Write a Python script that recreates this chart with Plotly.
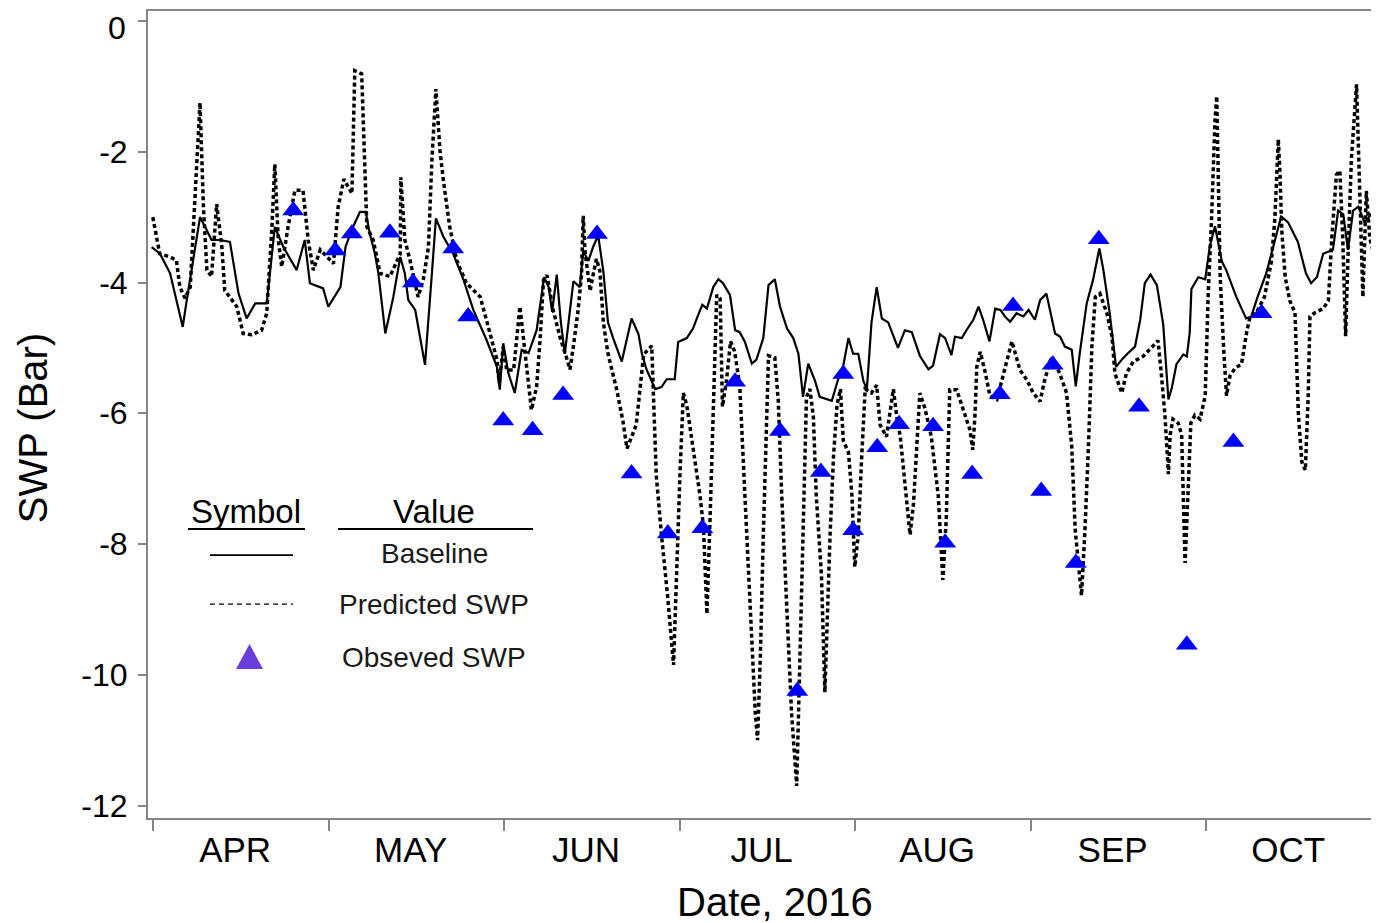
import plotly.graph_objects as go

# ---------------- data (x = days since 1 Apr 2016 on the chart's month scale) -------------
month_labels = ["APR", "MAY", "JUN", "JUL", "AUG", "SEP", "OCT"]
month_len = 30.5          # chart uses equal-width months
label_offset = 14.2       # month labels sit near mid-month

baseline_day = [-0.3, 1.15, 2.9, 5.1, 5.8, 7.2, 8.1, 9.0, 10.1, 11.6, 13.3, 14.8, 16.2, 17.7, 19.7,
                21.1, 22.6, 24.9, 26.3, 27.2, 29.5, 30.4, 31.9, 32.5, 33.4, 34.7, 35.9, 36.9, 37.6,
                38.5, 39.1, 40.3, 41.7, 42.9, 43.7, 44.3, 45.5, 47.2, 48.4, 49.1, 50.4, 52.1, 53.9,
                55.6, 57.9, 59.7, 60.2, 60.8, 61.7, 62.8, 64.0, 65.2, 66.6, 67.9, 68.7, 69.3, 70.1,
                70.8, 71.5, 73.0, 74.1, 74.7, 75.6, 76.4, 77.3, 78.2, 79.0, 79.9, 81.4, 83.1, 84.3,
                84.9, 85.7, 87.2, 88.3, 89.2, 90.6, 91.2, 92.7, 93.8, 94.7, 95.4, 96.2, 97.3, 98.2,
                99.0, 100.2, 101.1, 101.9, 102.8, 104.0, 104.8, 106.0, 106.9, 108.0, 108.9, 110.1,
                111.2, 112.1, 112.9, 113.8, 115.0, 115.8, 117.0, 117.9, 119.0, 119.9, 120.8, 121.6,
                122.5, 123.4, 124.0, 124.8, 125.7, 126.6, 127.7, 129.4, 130.6, 131.8, 133.2, 134.7,
                135.5, 136.7, 137.6, 138.7, 139.3, 140.5, 141.3, 142.5, 143.4, 144.2, 145.3, 146.3,
                147.2, 148.0, 148.9, 150.0, 151.2, 152.1, 153.2, 154.1, 155.2, 156.7, 157.6, 158.4,
                159.6, 160.3, 161.0, 162.2, 163.3, 164.4, 165.1, 166.2, 167.3, 168.3, 169.4, 170.6,
                171.5, 172.3, 173.3, 174.4, 175.5, 176.4, 177.0, 177.8, 179.0, 179.6, 180.1, 180.4,
                181.6, 182.8, 183.6, 184.5, 185.7, 186.4, 188.2, 189.9, 190.8, 191.9, 193.4, 194.8,
                196.0, 197.2, 198.9, 200.3, 201.2, 202.2, 203.3, 205.0, 205.9, 206.8, 207.6, 208.5,
                209.4, 210.5, 211.6, 213.1]
baseline_swp = [-3.46, -3.56, -3.86, -4.68, -4.27, -3.46, -3.0, -3.15, -3.35, -3.35, -3.38, -4.17,
                -4.55, -4.32, -4.32, -3.15, -3.46, -3.81, -3.35, -4.01, -4.09, -4.37, -4.17, -4.07,
                -3.45, -3.15, -2.92, -2.92, -3.25, -3.56, -3.86, -4.78, -4.22, -3.61, -3.86, -4.27,
                -4.42, -5.26, -3.86, -3.02, -3.30, -3.56, -3.96, -4.42, -4.88, -5.29, -5.64, -4.93,
                -5.39, -5.69, -5.03, -5.08, -4.73, -3.92, -4.07, -4.45, -3.88, -4.6, -5.09, -3.98,
                -4.07, -3.52, -3.67, -3.46, -3.28, -3.83, -4.61, -4.85, -5.21, -4.55, -4.79, -5.09,
                -5.33, -5.63, -5.60, -5.48, -5.48, -4.91, -4.85, -4.70, -4.49, -4.34, -4.40, -4.07,
                -3.95, -4.01, -4.19, -4.73, -4.76, -4.91, -5.24, -5.18, -4.85, -4.04, -3.95, -4.37,
                -4.70, -4.85, -5.09, -5.75, -5.24, -5.51, -5.75, -5.78, -5.81, -5.48, -5.27, -4.85,
                -5.09, -5.09, -5.51, -5.63, -4.61, -4.07, -4.55, -4.61, -5.00, -4.73, -4.76, -5.12,
                -5.33, -5.27, -4.79, -4.85, -5.11, -4.83, -4.85, -4.73, -4.57, -4.37, -4.57, -4.90,
                -4.40, -4.42, -4.52, -4.60, -4.47, -4.52, -4.42, -4.57, -4.27, -4.17, -4.78, -4.83,
                -4.98, -5.03, -5.59, -5.08, -4.32, -3.96, -3.48, -3.81, -4.47, -5.29, -5.18, -5.08,
                -4.98, -4.57, -4.01, -3.88, -4.04, -4.64, -5.79, -5.61, -5.25, -5.10, -5.13, -4.77,
                -4.10, -3.92, -3.95, -3.44, -3.14, -3.68, -3.80, -4.22, -4.55, -4.52, -4.22, -3.86,
                -3.38, -2.99, -3.08, -3.38, -3.86, -4.01, -3.92, -3.56, -3.50, -2.90, -2.96, -3.50,
                -2.90, -2.84, -3.08, -2.96, -3.14]

predicted_day = [-0.1, 1.1, 2.9, 4.0, 4.6, 5.5, 6.4, 7.2, 8.1, 8.7, 9.3, 10.1, 11.0, 11.9, 12.4, 14.5,
                 15.6, 17.1, 18.8, 19.7, 20.6, 21.1, 21.7, 22.3, 23.4, 24.6, 26.0, 26.9, 27.8, 29.0,
                 31.3, 32.1, 33.1, 34.5, 35.0, 36.2, 36.8, 37.1, 38.2, 39.4, 41.1, 42.9, 43.0, 43.7,
                 44.6, 46.0, 46.9, 47.8, 48.4, 49.1, 49.8, 50.4, 51.5, 52.7, 54.4, 56.8, 58.2, 59.7,
                 60.1, 60.8, 61.4, 62.6, 63.7, 64.3, 64.9, 65.7, 66.6, 67.2, 67.8, 68.4, 69.5, 70.7,
                 71.8, 72.4, 73.0, 73.8, 74.4, 74.7, 75.0, 75.9, 76.4, 77.0, 77.6, 78.2, 79.0, 80.5,
                 81.6, 82.3, 83.1, 83.9, 84.5, 85.2, 86.6, 86.9, 87.4, 88.3, 89.4, 90.4, 90.9, 91.5,
                 92.1, 92.7, 93.8, 95.0, 95.6, 96.2, 96.7, 97.3, 97.9, 98.5, 98.9, 99.6, 100.3, 101.0,
                 101.9, 102.8, 103.7, 104.6, 105.0, 105.5, 106.0, 106.6, 106.9, 108.0, 108.6, 109.2,
                 110.1, 110.9, 111.8, 112.4, 112.9, 113.5, 114.1, 114.7, 115.2, 116.1, 116.7, 117.0,
                 117.6, 118.2, 118.8, 119.4, 119.9, 120.8, 121.4, 121.9, 122.5, 123.1, 123.7, 124.8,
                 125.7, 126.3, 127.4, 128.6, 129.2, 129.8, 130.6, 131.5, 132.1, 132.7, 133.2, 134.1,
                 135.2, 136.4, 137.2, 137.8, 138.1, 138.4, 139.6, 140.7, 141.9, 142.4, 142.8, 143.1,
                 143.7, 144.6, 145.4, 146.6, 148.0, 149.2, 150.6, 151.8, 152.9, 154.1, 154.9, 156.1,
                 157.5, 158.7, 159.6, 160.2, 161.3, 161.9, 162.5, 163.1, 163.7, 164.5, 165.7, 166.6,
                 167.1, 168.3, 169.1, 170.3, 172.0, 173.5, 174.6, 175.2, 175.8, 176.4, 176.7, 177.2,
                 178.1, 178.7, 179.0, 179.3, 179.8, 180.3, 181.0, 181.9, 182.8, 183.3, 183.9, 184.5,
                 184.8, 185.1, 185.4, 186.0, 186.5, 187.1, 188.0, 189.1, 190.0, 190.6, 191.7, 193.1,
                 194.3, 194.9, 195.5, 195.8, 196.1, 196.7, 197.5, 198.4, 198.7, 199.0, 199.6, 200.2,
                 200.7, 201.0, 201.9, 203.3, 204.2, 204.8, 205.6, 206.2, 206.7, 207.2, 207.6, 208.2,
                 209.1, 209.7, 210.2, 210.8, 211.4, 212.6, 213.2]
predicted_swp = [-3.0, -3.56, -3.61, -3.66, -4.07, -4.24, -4.07, -2.85, -1.25, -2.85, -3.81, -3.91,
                 -2.8, -3.46, -4.12, -4.37, -4.78, -4.80, -4.73, -4.47, -3.15, -2.19, -3.35, -3.76,
                 -3.15, -2.59, -2.59, -3.35, -3.81, -3.5, -3.71, -2.85, -2.42, -2.64, -0.76, -0.81,
                 -2.34, -3.15, -3.35, -3.86, -3.91, -3.56, -2.39, -3.35, -3.66, -4.22, -3.96, -3.46,
                 -2.13, -1.04, -1.98, -2.44, -3.15, -3.66, -4.01, -4.22, -4.68, -5.18, -5.54, -4.98,
                 -5.34, -5.34, -4.37, -4.88, -5.39, -5.95, -5.59, -4.88, -3.96, -3.89, -4.43, -4.85,
                 -5.15, -5.33, -4.97, -4.43, -3.89, -2.98, -3.52, -4.13, -3.89, -3.64, -3.83, -4.61,
                 -5.09, -5.63, -6.12, -6.54, -6.36, -6.18, -5.69, -5.1, -4.97, -5.81, -6.96, -7.86,
                 -8.83, -9.85, -8.47, -6.96, -5.69, -5.88, -6.54, -7.26, -7.74, -9.07, -7.74, -6.06,
                 -4.19, -4.25, -5.9, -5.5, -4.9, -5.05, -5.57, -7.26, -9.07, -10.58, -11.0, -9.67,
                 -7.86, -6.06, -5.12, -5.15, -5.81, -7.26, -9.07, -10.58, -11.7, -9.67, -7.86, -5.75,
                 -5.63, -6.06, -7.26, -8.47, -10.27, -9.37, -7.86, -6.66, -5.88, -5.63, -6.42, -6.60,
                 -7.26, -8.35, -7.86, -6.66, -5.63, -5.69, -5.57, -6.18, -6.36, -5.63, -6.06, -6.36,
                 -7.02, -7.86, -7.38, -6.54, -5.69, -5.93, -6.36, -7.26, -8.55, -7.6, -6.51, -5.64,
                 -5.64, -5.95, -6.25, -6.56, -6.0, -5.29, -5.06, -5.39, -5.74, -5.79, -5.29, -4.90,
                 -5.34, -5.49, -5.69, -5.82, -5.49, -5.13, -5.39, -5.69, -6.51, -7.78, -8.79, -7.78,
                 -6.51, -4.98, -4.22, -4.17, -4.47, -4.83, -5.39, -5.69, -5.39, -5.21, -5.13, -4.98,
                 -4.89, -5.43, -6.03, -6.93, -6.33, -6.09, -6.15, -6.33, -7.24, -8.29, -7.24, -6.15,
                 -6.03, -6.09, -5.73, -4.22, -3.02, -1.51, -1.15, -2.41, -3.92, -5.01, -5.73, -5.43,
                 -5.31, -5.25, -4.76, -4.52, -4.46, -4.22, -3.68, -3.02, -1.81, -2.35, -3.20, -3.92,
                 -4.28, -4.46, -5.13, -6.03, -6.75, -6.87, -5.73, -4.52, -4.46, -4.40, -4.28, -3.32,
                 -2.35, -2.29, -3.32, -4.82, -3.62, -2.11, -0.97, -3.02, -4.22, -2.60, -3.32, -3.74,
                 -3.8]

observed_day = [24.3, 31.6, 34.5, 41.1, 45.1, 52.1, 54.7, 60.8, 65.9, 71.2, 77.1, 83.1, 89.4, 95.4,
                101.1, 108.9, 111.9, 116.0, 119.9, 121.6, 125.8, 129.6, 135.5, 137.6, 142.3, 147.1,
                149.4, 154.3, 156.3, 160.3, 164.3, 171.3, 179.6, 187.7, 192.6]
observed_swp = [-2.9, -3.51, -3.25, -3.24, -4.0, -3.48, -4.52, -6.11, -6.26, -5.72, -3.26, -6.92,
                -7.84, -7.76, -5.52, -6.27, -10.25, -6.9, -5.4, -7.79, -6.52, -6.17, -6.2, -7.98,
                -6.93, -5.71, -4.36, -7.19, -5.26, -8.29, -3.34, -5.9, -9.54, -6.44, -4.47]

y_ticks = [0, -2, -4, -6, -8, -10, -12]

legend_rows = ["Baseline", "Predicted SWP", "Obseved SWP"]

# ---------------- layout geometry (window pixels) ----------------
OFF = 8                      # page body margin in the browser
W, H = 1379 - OFF, 923 - OFF
L, R, T, B = 148, 1379, 10.7, 818   # plot area in window pixels
FONT = "Liberation Sans, Arial, sans-serif"
AXIS_GRAY = "#858585"
TICK_SIZE_Y = 32


def px(x):
    return (x - L) / (R - L)


def py(y):
    return (B - y) / (B - T)


boundaries = [k * month_len for k in range(len(month_labels))]
label_pos = [k * month_len + label_offset for k in range(len(month_labels))]

fig = go.Figure()
fig.add_trace(go.Scatter(x=predicted_day, y=predicted_swp, mode="lines",
                         line=dict(color="black", width=3.5, dash="4px,3px"),
                         name="Predicted SWP", showlegend=False))
fig.add_trace(go.Scatter(x=baseline_day, y=baseline_swp, mode="lines",
                         line=dict(color="black", width=2.2),
                         name="Baseline", showlegend=False))
fig.add_trace(go.Scatter(x=observed_day, y=observed_swp, mode="markers",
                         marker=dict(symbol="triangle-up", size=19, color="#0000ff",
                                     line=dict(width=0)),
                         name="Obseved SWP", showlegend=False))

shapes = []
annotations = []

# legend header
annotations.append(dict(x=px(246), y=py(511), xref="paper", yref="paper", text="Symbol",
                        showarrow=False, xanchor="center", yanchor="middle",
                        font=dict(family=FONT, size=33, color="black")))
annotations.append(dict(x=px(434), y=py(511), xref="paper", yref="paper", text="Value",
                        showarrow=False, xanchor="center", yanchor="middle",
                        font=dict(family=FONT, size=33, color="black")))
shapes.append(dict(type="line", xref="paper", yref="paper", x0=px(188), x1=px(305),
                   y0=py(529), y1=py(529), line=dict(color="black", width=2)))
shapes.append(dict(type="line", xref="paper", yref="paper", x0=px(338), x1=px(533),
                   y0=py(529), y1=py(529), line=dict(color="black", width=2)))

row_y = [553, 604, 657]
for label, yy in zip(legend_rows, row_y):
    annotations.append(dict(x=px(434), y=py(yy), xref="paper", yref="paper", text=label,
                            showarrow=False, xanchor="center", yanchor="middle",
                            font=dict(family=FONT, size=28, color="#1a1a1a")))

shapes.append(dict(type="line", xref="paper", yref="paper", x0=px(210), x1=px(293),
                   y0=py(555), y1=py(555), line=dict(color="black", width=1.6)))
shapes.append(dict(type="line", xref="paper", yref="paper", x0=px(210), x1=px(293),
                   y0=py(604), y1=py(604), line=dict(color="black", width=1.3, dash="5px,4px")))
shapes.append(dict(type="path", xref="paper", yref="paper",
                   path=f"M {px(236)},{py(669)} L {px(263)},{py(669)} L {px(249.5)},{py(644)} Z",
                   fillcolor="#6a3ddc", line=dict(width=0)))

# axis titles
annotations.append(dict(x=px(33), y=py(428), xref="paper", yref="paper", text="SWP (Bar)",
                        textangle=-90, showarrow=False, xanchor="center", yanchor="middle",
                        font=dict(family=FONT, size=40, color="black")))
annotations.append(dict(x=px(774.5), y=py(902), xref="paper", yref="paper", text="Date, 2016",
                        showarrow=False, xanchor="center", yanchor="middle",
                        font=dict(family=FONT, size=40, color="black")))

# the top tick label ("0") sits at the very top edge, where plotly drops it; draw it explicitly,
# anchored to the top of the figure so its box stays inside the page
top_tick = y_ticks[0]
annotations.append(dict(x=px(127), y=py(OFF + 0.5), xref="paper", yref="paper", text=str(top_tick),
                        showarrow=False, xanchor="right", yanchor="top", borderpad=0,
                        font=dict(family=FONT, size=TICK_SIZE_Y, color="black")))

fig.update_layout(
    width=W, height=H, autosize=False,
    margin=dict(l=L - OFF, r=0, t=T - OFF, b=H - (B - OFF), pad=0),
    paper_bgcolor="white", plot_bgcolor="white",
    showlegend=False,
    shapes=shapes, annotations=annotations,
    font=dict(family=FONT, color="black"),
)

fig.update_xaxes(
    range=[(L - 153.4) / 5.754, (R - 153.4) / 5.754],
    tickmode="array", tickvals=label_pos, ticktext=month_labels,
    ticks="",
    tickfont=dict(family=FONT, size=35, color="black"),
    minor=dict(tickmode="array", tickvals=boundaries, ticks="outside", ticklen=11,
               tickcolor=AXIS_GRAY, tickwidth=1.5, showgrid=False),
    showgrid=False, zeroline=False,
    showline=True, linecolor=AXIS_GRAY, linewidth=2, mirror=True,
)
fig.update_yaxes(
    range=[-(B - 20.7) / 65.4, (20.7 - T) / 65.4],
    tickmode="array", tickvals=y_ticks,
    ticktext=[""] + [str(v) for v in y_ticks[1:]],
    ticks="outside", ticklen=8, tickcolor=AXIS_GRAY, tickwidth=1.5,
    tickfont=dict(family=FONT, size=TICK_SIZE_Y, color="black"),
    ticklabelstandoff=4,
    showgrid=False, zeroline=False,
    showline=True, linecolor=AXIS_GRAY, linewidth=2,
)

fig.write_html("out.html")
